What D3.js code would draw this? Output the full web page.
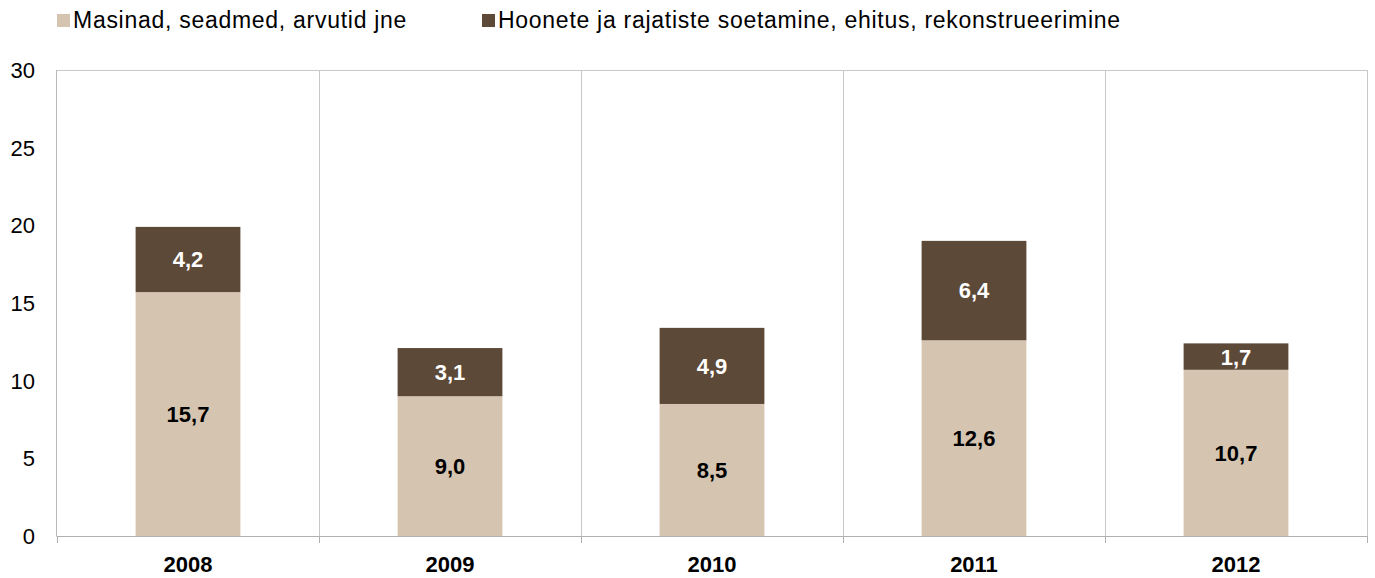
<!DOCTYPE html>
<head>
  <meta charset="utf-8">
  <script src="https://d3js.org/d3.v7.min.js"></script>
  <style>
    body { margin: 0; background: #fff; }
    text { font-family: Arial, "Liberation Sans", sans-serif; }
  </style>
</head>
<body>
<script>
  // data
  var years = ["2008", "2009", "2010", "2011", "2012"];
  var machines = [15.7, 9.0, 8.5, 12.6, 10.7];
  var buildings = [4.2, 3.1, 4.9, 6.4, 1.7];
  var seriesNames = ["Masinad, seadmed, arvutid jne", "Hoonete ja rajatiste soetamine, ehitus, rekonstrueerimine"];
  var seriesColors = ["#D5C5B0", "#5D4937"];
  var yTicks = [0, 5, 10, 15, 20, 25, 30];

  var outerWidth = 1375, outerHeight = 578;
  var margin = { top: 70, left: 57, right: 8, bottom: 42 };
  var width = outerWidth - margin.left - margin.right,
      height = outerHeight - margin.top - margin.bottom;

  var svg = d3.select("body").append("svg")
    .attr("width", outerWidth)
    .attr("height", outerHeight);

  var g = svg.append("g")
    .attr("transform", "translate(" + margin.left + " " + margin.top + ")");

  var xScale = d3.scaleBand().domain(years).range([0, width]).padding(0);
  var yScale = d3.scaleLinear().domain([0, 30]).range([height, 0]);

  // category separators (vertical gridlines)
  var bounds = years.map(function(d) { return xScale(d); }).concat([width]);
  g.selectAll(".vgrid")
    .data(bounds.slice(1))
    .enter().append("line")
    .attr("x1", function(d) { return d + 0.5; })
    .attr("x2", function(d) { return d + 0.5; })
    .attr("y1", 0)
    .attr("y2", height)
    .attr("stroke", "#c8c8c8");

  // top border
  g.append("line")
    .attr("x1", 0).attr("x2", width + 0.5)
    .attr("y1", 0.5).attr("y2", 0.5)
    .attr("stroke", "#c8c8c8");

  // stacked bars
  var stackData = years.map(function(y, i) {
    return { year: y, a: machines[i], b: buildings[i] };
  });
  var stack = d3.stack().keys(["a", "b"])(stackData);
  var bw = xScale.bandwidth() * 0.4;

  stack.forEach(function(layer, li) {
    var grp = g.append("g");
    grp.selectAll("rect")
      .data(layer)
      .enter().append("rect")
      .attr("x", function(d) { return xScale(d.data.year) + (xScale.bandwidth() - bw) / 2; })
      .attr("width", bw)
      .attr("y", function(d) { return yScale(d[1]); })
      .attr("height", function(d) { return yScale(d[0]) - yScale(d[1]); })
      .attr("fill", seriesColors[li]);

    grp.selectAll("text")
      .data(layer)
      .enter().append("text")
      .attr("x", function(d) { return xScale(d.data.year) + xScale.bandwidth() / 2; })
      .attr("y", function(d) { return (yScale(d[0]) + yScale(d[1])) / 2; })
      .attr("dy", "0.36em")
      .attr("text-anchor", "middle")
      .attr("font-size", "22px")
      .attr("font-weight", "bold")
      .attr("fill", li === 0 ? "#000" : "#fff")
      .text(function(d) { return (d[1] - d[0]).toFixed(1).replace(".", ","); });
  });

  // left axis line
  g.append("line")
    .attr("x1", -0.5).attr("x2", -0.5)
    .attr("y1", 0).attr("y2", height)
    .attr("stroke", "#b8b8b8");

  // y tick labels
  g.selectAll(".ytick")
    .data(yTicks)
    .enter().append("text")
    .attr("x", -22)
    .attr("y", function(d) { return yScale(d); })
    .attr("dy", "0.36em")
    .attr("text-anchor", "end")
    .attr("font-size", "22px")
    .attr("fill", "#000")
    .text(function(d) { return d; });

  // bottom axis
  g.append("line")
    .attr("x1", -0.5).attr("x2", width + 0.5)
    .attr("y1", height + 0.5).attr("y2", height + 0.5)
    .attr("stroke", "#b0b0b0");
  g.selectAll(".xtick")
    .data(bounds)
    .enter().append("line")
    .attr("x1", function(d) { return d + 0.5; })
    .attr("x2", function(d) { return d + 0.5; })
    .attr("y1", height)
    .attr("y2", height + 7)
    .attr("stroke", "#b0b0b0");

  g.selectAll(".xlabel")
    .data(years)
    .enter().append("text")
    .attr("x", function(d) { return xScale(d) + xScale.bandwidth() / 2; })
    .attr("y", height + 36)
    .attr("text-anchor", "middle")
    .attr("font-size", "22px")
    .attr("font-weight", "bold")
    .attr("fill", "#000")
    .text(function(d) { return d; });

  // legend
  var legendX = [57, 482];
  seriesNames.forEach(function(name, i) {
    svg.append("rect")
      .attr("x", legendX[i]).attr("y", 14)
      .attr("width", 13).attr("height", 13)
      .attr("fill", seriesColors[i]);
    svg.append("text")
      .attr("x", legendX[i] + 16)
      .attr("y", 28)
      .attr("font-size", "23px")
      .attr("letter-spacing", "0.72px")
      .attr("fill", "#000")
      .text(name);
  });
</script>
</body>
